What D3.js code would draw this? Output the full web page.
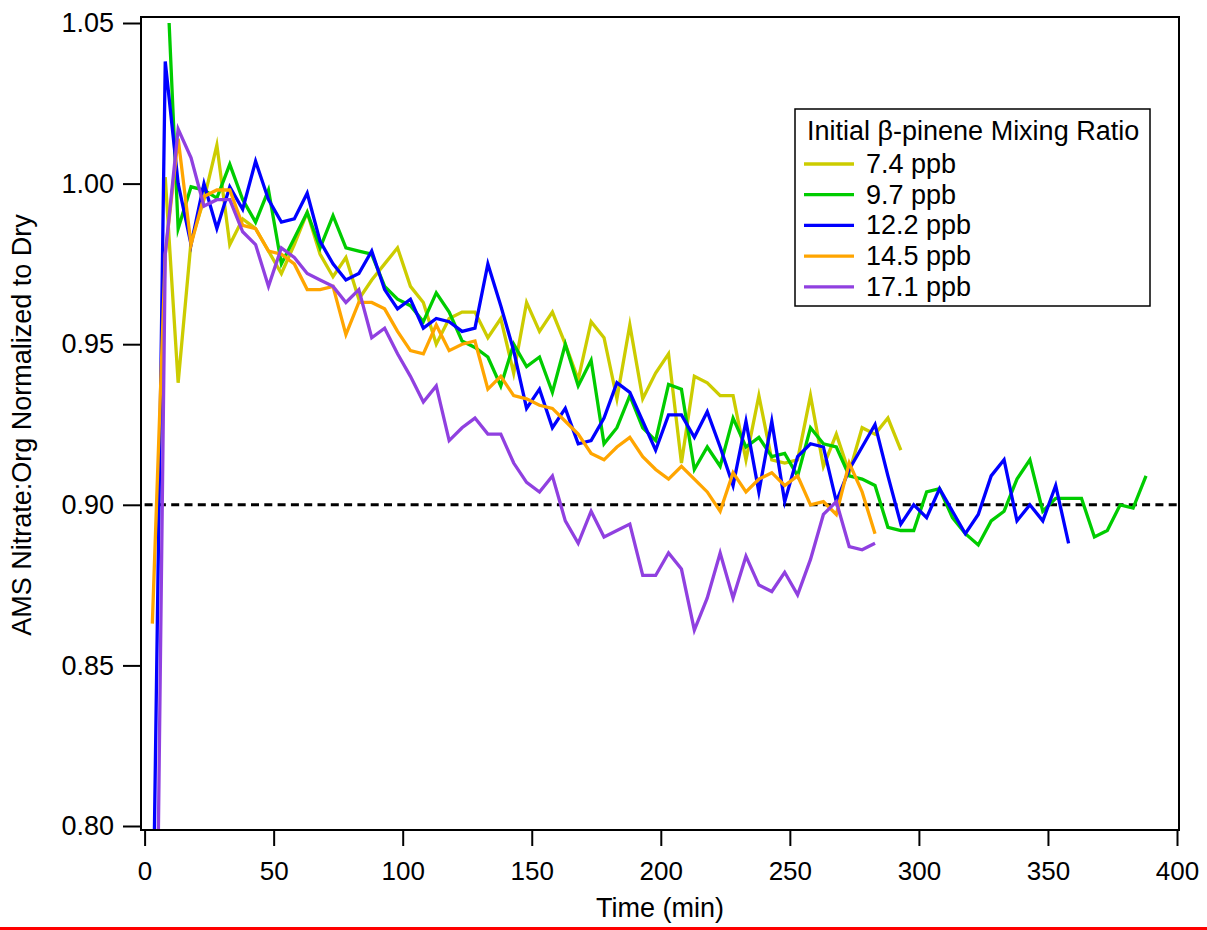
<!DOCTYPE html>
<html>
<head>
<meta charset="utf-8">
<script src="https://cdn.jsdelivr.net/npm/d3@7"></script>
<style>
  body { margin: 0; background: #fff; }
  svg { display: block; font-family: Arial, "Liberation Sans", sans-serif; }
</style>
</head>
<body>
<div id="chart"></div>
<script>
// sample times (min) shared by the runs
const times = [3, 8, 13, 18, 23, 28, 33, 38, 43, 48, 53, 58, 63, 68, 73, 78, 83, 88, 93, 98,
  103, 108, 113, 118, 123, 128, 133, 138, 143, 148, 153, 158, 163, 168, 173, 178, 183, 188, 193, 198,
  203, 208, 213, 218, 223, 228, 233, 238, 243, 248, 253, 258, 263, 268, 273, 278, 283, 288, 293, 298,
  303, 308, 313, 318, 323, 328, 333, 338, 343, 348, 353, 358, 363, 368, 373, 378, 383, 388];

// nitrate:org normalized to dry
const ppb74 = [1.002, 0.938, 0.982, 0.995, 1.012, 0.981, 0.989, 0.986, 0.979, 0.972,
  0.981, 0.991, 0.978, 0.971, 0.977, 0.964, 0.970, 0.975, 0.980, 0.968,
  0.963, 0.950, 0.958, 0.960, 0.960, 0.952, 0.958, 0.941, 0.963, 0.954,
  0.960, 0.950, 0.939, 0.957, 0.952, 0.933, 0.956, 0.933, 0.941, 0.947,
  0.913, 0.940, 0.938, 0.934, 0.934, 0.914, 0.934, 0.914, 0.913, 0.914,
  0.934, 0.912, 0.922, 0.910, 0.924, 0.922, 0.927, 0.917];
const ppb97 = [1.050, 0.986, 0.999, 0.998, 0.9955, 1.006, 0.995, 0.988, 0.998, 0.975,
  0.983, 0.991, 0.980, 0.990, 0.980, 0.979, 0.978, 0.968, 0.964, 0.962,
  0.957, 0.966, 0.960, 0.951, 0.949, 0.946, 0.937, 0.950, 0.943, 0.946,
  0.935, 0.950, 0.937, 0.945, 0.919, 0.924, 0.934, 0.924, 0.920, 0.9375,
  0.936, 0.911, 0.918, 0.912, 0.927, 0.918, 0.921, 0.915, 0.916, 0.909,
  0.924, 0.919, 0.918, 0.909, 0.908, 0.906, 0.893, 0.892, 0.892, 0.904,
  0.905, 0.896, 0.891, 0.8875, 0.895, 0.898, 0.908, 0.914, 0.898, 0.902,
  0.902, 0.902, 0.890, 0.892, 0.900, 0.899, 0.909];
const ppb122 = [0.753, 1.038, 1.000, 0.981, 1.000, 0.986, 0.999, 0.992, 1.007, 0.995,
  0.988, 0.989, 0.997, 0.982, 0.975, 0.970, 0.972, 0.979, 0.967, 0.961,
  0.964, 0.955, 0.958, 0.957, 0.954, 0.955, 0.975, 0.962, 0.948, 0.930,
  0.936, 0.924, 0.930, 0.919, 0.920, 0.927, 0.938, 0.935, 0.926, 0.917,
  0.928, 0.928, 0.921, 0.929, 0.918, 0.906, 0.926, 0.904, 0.926, 0.901,
  0.915, 0.919, 0.918, 0.901, 0.911, 0.918, 0.925, 0.909, 0.894, 0.900,
  0.896, 0.905, 0.898, 0.891, 0.897, 0.909, 0.914, 0.895, 0.900, 0.895,
  0.906, 0.888];
const ppb145 = [0.863, 0.978, 1.014, 0.981, 0.996, 0.998, 0.998, 0.987, 0.986, 0.979,
  0.978, 0.975, 0.967, 0.967, 0.968, 0.953, 0.963, 0.963, 0.961, 0.954,
  0.948, 0.947, 0.956, 0.948, 0.950, 0.951, 0.936, 0.940, 0.934, 0.933,
  0.931, 0.930, 0.926, 0.922, 0.916, 0.914, 0.918, 0.921, 0.915, 0.911,
  0.908, 0.912, 0.908, 0.904, 0.898, 0.910, 0.904, 0.908, 0.910, 0.906,
  0.909, 0.900, 0.901, 0.897, 0.913, 0.904, 0.891];
const ppb171 = [0.640, 0.978, 1.017, 1.008, 0.993, 0.995, 0.995, 0.985, 0.981, 0.968,
  0.980, 0.977, 0.972, 0.970, 0.968, 0.963, 0.967, 0.952, 0.955, 0.947,
  0.940, 0.932, 0.937, 0.920, 0.924, 0.927, 0.922, 0.922, 0.913, 0.907,
  0.904, 0.909, 0.895, 0.888, 0.898, 0.890, 0.892, 0.894, 0.878, 0.878,
  0.885, 0.880, 0.861, 0.871, 0.885, 0.871, 0.884, 0.875, 0.873, 0.879,
  0.872, 0.883, 0.897, 0.901, 0.887, 0.886, 0.888];

// time of each run's samples (the 9.7 ppb run starts at 9.5 min)
const times74 = times.slice(1, 59);
const times97 = [9.5].concat(times.slice(2, 78));
const times122 = times.slice(0, 72);
const times145 = times.slice(0, 57);
const times171 = times.slice(0, 57);

const seriesLabels = ["7.4 ppb", "9.7 ppb", "12.2 ppb", "14.5 ppb", "17.1 ppb"];
const seriesColors = ["#CCCC00", "#00CC00", "#0000FF", "#FFA500", "#9040E0"];
const seriesValues = [ppb74, ppb97, ppb122, ppb145, ppb171];
const seriesTimes = [times74, times97, times122, times145, times171];

const xTicks = [0, 50, 100, 150, 200, 250, 300, 350, 400];
const yTicks = [0.80, 0.85, 0.90, 0.95, 1.00, 1.05];
const dryLevel = 0.90;
const legendTitle = "Initial \u03B2-pinene Mixing Ratio";

////////////////////////////////////////////////////////////////////////
// layout

const width = 1207, height = 930;
const frameLeft = 141, frameRight = 1179, frameTop = 17, frameBottom = 830;

const svg = d3.select("#chart").append("svg")
  .attr("width", width)
  .attr("height", height);

svg.append("rect").attr("width", width).attr("height", height).attr("fill", "#fff");

let xScale = d3.scaleLinear().domain([0, 400]).range([144.6, 1177]);
let yScale = d3.scaleLinear().domain([0.8, 1.05]).range([826, 23]);

svg.append("clipPath").attr("id", "plotClip")
  .append("rect")
  .attr("x", frameLeft).attr("y", frameTop)
  .attr("width", frameRight - frameLeft).attr("height", frameBottom - frameTop);

// dashed reference line at 0.90
svg.append("line")
  .attr("x1", xScale(0)).attr("x2", xScale(400))
  .attr("y1", yScale(dryLevel)).attr("y2", yScale(dryLevel))
  .attr("stroke", "#000")
  .attr("stroke-width", 3)
  .attr("stroke-dasharray", "8,5.3");

// the five runs
let line = d3.line()
  .x(d => xScale(d[0]))
  .y(d => yScale(d[1]));

svg.append("g")
  .attr("clip-path", "url(#plotClip)")
  .selectAll("path")
  .data(seriesValues)
  .enter()
  .append("path")
  .attr("d", (vals, i) => line(vals.map((v, j) => [seriesTimes[i][j], v])))
  .attr("fill", "none")
  .attr("stroke", (d, i) => seriesColors[i])
  .attr("stroke-width", 3.3)
  .attr("stroke-linejoin", "miter")
  .attr("stroke-miterlimit", 6);

// frame
svg.append("rect")
  .attr("x", frameLeft).attr("y", frameTop)
  .attr("width", frameRight - frameLeft).attr("height", frameBottom - frameTop)
  .attr("fill", "none")
  .attr("stroke", "#000")
  .attr("stroke-width", 2);

// axes
let yAxis = d3.axisLeft(yScale).tickValues(yTicks).tickSize(18).tickPadding(9)
  .tickFormat(d3.format(".2f"));
let xAxis = d3.axisBottom(xScale).tickValues(xTicks).tickSize(16).tickPadding(16)
  .tickFormat(d3.format("d"));

let gy = svg.append("g")
  .attr("transform", `translate(${frameLeft},0)`)
  .call(yAxis);
let gx = svg.append("g")
  .attr("transform", `translate(0,${frameBottom})`)
  .call(xAxis);

[gx, gy].forEach(g => {
  g.select(".domain").remove();
  g.selectAll(".tick line").attr("stroke", "#000").attr("stroke-width", 2);
  g.selectAll(".tick text")
    .attr("fill", "#000")
    .style("font-family", "Arial, 'Liberation Sans', sans-serif");
});
gy.selectAll(".tick text").style("font-size", "27px");
gx.selectAll(".tick text").style("font-size", "26px");

svg.append("text")
  .attr("x", (frameLeft + frameRight) / 2)
  .attr("y", 917)
  .attr("text-anchor", "middle")
  .style("font-size", "27px")
  .text("Time (min)");

svg.append("text")
  .attr("transform", "translate(22,425) rotate(-90)")
  .attr("dy", "0.35em")
  .attr("text-anchor", "middle")
  .style("font-size", "27px")
  .text("AMS Nitrate:Org Normalized to Dry");

// legend
let legend = svg.append("g");
legend.append("rect")
  .attr("x", 795).attr("y", 109)
  .attr("width", 355).attr("height", 197)
  .attr("fill", "#fff")
  .attr("stroke", "#000")
  .attr("stroke-width", 1.5);
legend.append("text")
  .attr("x", 807).attr("y", 140)
  .style("font-size", "27px")
  .text(legendTitle);

let rows = legend.selectAll(".row")
  .data(seriesLabels)
  .enter()
  .append("g")
  .attr("class", "row")
  .attr("transform", (d, i) => `translate(0,${164 + i * 30.7})`);
rows.append("line")
  .attr("x1", 804).attr("x2", 854)
  .attr("stroke", (d, i) => seriesColors[i])
  .attr("stroke-width", 3.3);
rows.append("text")
  .attr("x", 866)
  .attr("dy", "0.33em")
  .style("font-size", "27px")
  .text(d => d);

// red rule along the bottom edge of the picture
svg.append("rect")
  .attr("x", 0).attr("y", 927)
  .attr("width", width).attr("height", 3)
  .attr("fill", "#FF0000");
</script>
</body>
</html>
